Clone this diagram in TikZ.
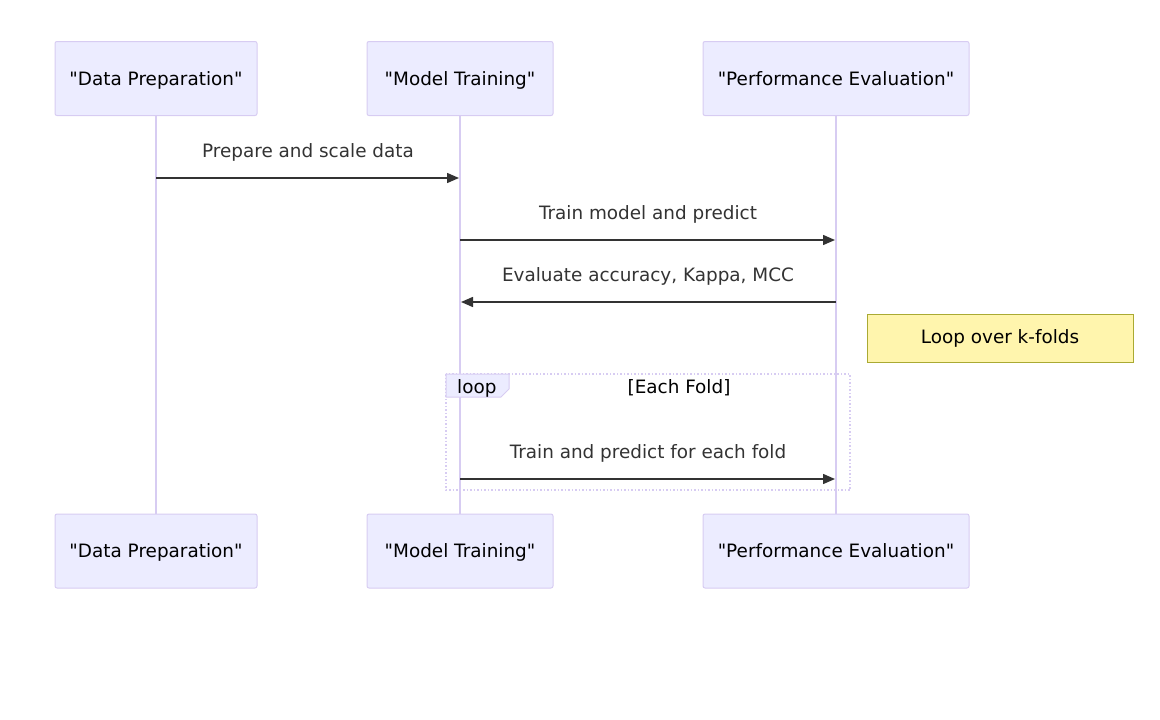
\documentclass[tikz,border=0pt]{standalone}
\usepackage{fontspec}
\setmainfont{DejaVu Sans}[Ligatures=TeXOff]
\usetikzlibrary{arrows.meta}
\definecolor{actorfill}{HTML}{ECECFF}
\definecolor{actorline}{HTML}{D7CCF2}
\definecolor{notefill}{HTML}{FFF5AD}
\definecolor{noteline}{HTML}{AAAA33}
\definecolor{msgline}{HTML}{333333}
\newcommand{\diagfont}{\fontsize{18.4}{22}\selectfont}
\begin{document}
\begin{tikzpicture}[x=1pt,y=-1pt]
  \tikzset{ActorStyle/.style = {
    shape         = rectangle,
    draw          = actorline,
    fill          = actorfill,
    rounded corners = 2pt,
    line width    = 1pt,
    text          = black,
    inner sep     = 0pt,
    outer sep     = 0pt,
    minimum height = 74pt,
    text height   = 15pt,
    text depth    = 2pt,
    font          = \diagfont
    }
  }
  \tikzset{LifeStyle/.style = {
    draw          = actorline,
    line width    = 2pt
    }
  }
  \tikzset{MsgStyle/.style = {
    draw          = msgline,
    line width    = 1.5pt,
    -{Triangle[length=12pt,width=10pt]}
    }
  }
  \tikzset{MsgLabelStyle/.style = {
    text          = msgline,
    inner sep     = 0pt,
    anchor        = base,
    yshift        = 21pt,
    font          = \diagfont
    }
  }
  \tikzset{NoteStyle/.style = {
    shape         = rectangle,
    draw          = noteline,
    fill          = notefill,
    line width    = 1pt,
    minimum width = 266pt,
    minimum height = 48pt,
    font          = \diagfont
    }
  }

  \useasboundingbox (0,0) rectangle (1160,720);

  \node[ActorStyle, minimum width=202pt](A1) at (156, 78.5) {"Data Preparation"};
  \node[ActorStyle, minimum width=186pt](A2) at (460, 78.5) {"Model Training"};
  \node[ActorStyle, minimum width=266pt](A3) at (836, 78.5) {"Performance Evaluation"};
  \node[ActorStyle, minimum width=202pt](B1) at (156, 551) {"Data Preparation"};
  \node[ActorStyle, minimum width=186pt](B2) at (460, 551) {"Model Training"};
  \node[ActorStyle, minimum width=266pt](B3) at (836, 551) {"Performance Evaluation"};

  \draw[LifeStyle](A1) to (B1);
  \draw[LifeStyle](A2) to (B2);
  \draw[LifeStyle](A3) to (B3);

  % loop frame
  \draw[actorline, line width=1.5pt, dotted] (446,374) rectangle (850,490);
  \draw[actorline, fill=actorfill, line width=1pt] (446,374) -- (509,374) -- (509,389) -- (501,397) -- (446,397) -- cycle;
  \node[font=\diagfont, inner sep=0pt, anchor=base west](L1) at (457,393.5) {loop};
  \node[font=\diagfont, inner sep=0pt, anchor=base](L2) at (679,393.5) {[Each Fold]};

  \coordinate (M1s) at (A1.center |- 0,178);
  \coordinate (M1e) at (A2.center |- 0,178);
  \coordinate (M2s) at (A2.center |- 0,240);
  \coordinate (M2e) at (A3.center |- 0,240);
  \coordinate (M3s) at (A3.center |- 0,302);
  \coordinate (M3e) at (A2.center |- 0,302);
  \coordinate (M4s) at (A2.center |- 0,479);
  \coordinate (M4e) at (A3.center |- 0,479);

  \draw[MsgStyle, shorten >=1pt](M1s) to node[MsgLabelStyle]{Prepare and scale data} (M1e);
  \draw[MsgStyle, shorten >=1pt](M2s) to node[MsgLabelStyle]{Train model and predict} (M2e);
  \draw[MsgStyle, shorten >=1pt](M3s) to node[MsgLabelStyle]{Evaluate accuracy, Kappa, MCC} (M3e);
  \draw[MsgStyle, shorten >=1pt](M4s) to node[MsgLabelStyle]{Train and predict for each fold} (M4e);

  \node[NoteStyle](N1) at (1000, 338) {Loop over k-folds};
\end{tikzpicture}
\end{document}
